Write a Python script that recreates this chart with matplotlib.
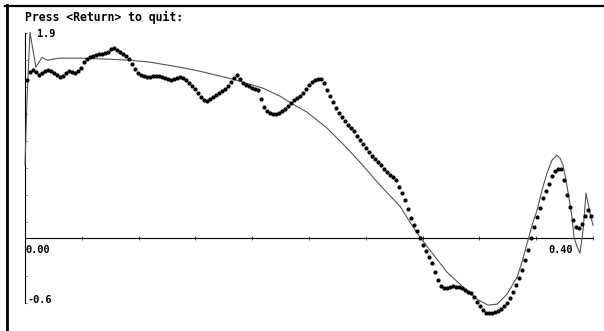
import numpy as np
import matplotlib
matplotlib.use("Agg")
import matplotlib.pyplot as plt
from matplotlib.lines import Line2D

################################################################
# Data
################################################################
# measured samples (dots)
x_meas = [
    0.0014, 0.0035, 0.0056, 0.0077, 0.0099, 0.0120, 0.0141, 0.0162, 0.0183, 0.0204,
    0.0225, 0.0246, 0.0268, 0.0289, 0.0310, 0.0331, 0.0352, 0.0373, 0.0394, 0.0415,
    0.0437, 0.0458, 0.0479, 0.0500, 0.0521, 0.0542, 0.0563, 0.0585, 0.0606, 0.0627,
    0.0648, 0.0669, 0.0690, 0.0711, 0.0732, 0.0754, 0.0775, 0.0796, 0.0817, 0.0838,
    0.0859, 0.0880, 0.0901, 0.0923, 0.0944, 0.0965, 0.0986, 0.1007, 0.1028, 0.1049,
    0.1070, 0.1092, 0.1113, 0.1134, 0.1155, 0.1176, 0.1197, 0.1218, 0.1239, 0.1261,
    0.1282, 0.1303, 0.1324, 0.1345, 0.1366, 0.1387, 0.1408, 0.1430, 0.1451, 0.1472,
    0.1493, 0.1514, 0.1535, 0.1556, 0.1577, 0.1599, 0.1620, 0.1641, 0.1662, 0.1683,
    0.1704, 0.1725, 0.1746, 0.1768, 0.1789, 0.1810, 0.1831, 0.1852, 0.1873, 0.1894,
    0.1915, 0.1937, 0.1958, 0.1979, 0.2000, 0.2021, 0.2042, 0.2063, 0.2085, 0.2106,
    0.2127, 0.2148, 0.2169, 0.2190, 0.2211, 0.2232, 0.2254, 0.2275, 0.2296, 0.2317,
    0.2338, 0.2359, 0.2380, 0.2401, 0.2423, 0.2444, 0.2465, 0.2486, 0.2507, 0.2528,
    0.2549, 0.2570, 0.2592, 0.2613, 0.2634, 0.2655, 0.2676, 0.2697, 0.2718, 0.2739,
    0.2761, 0.2782, 0.2803, 0.2824, 0.2845, 0.2866, 0.2887, 0.2908, 0.2930, 0.2951,
    0.2972, 0.2993, 0.3014, 0.3035, 0.3056, 0.3077, 0.3099, 0.3120, 0.3141, 0.3162,
    0.3183, 0.3204, 0.3225, 0.3246, 0.3268, 0.3289, 0.3310, 0.3331, 0.3352, 0.3373,
    0.3394, 0.3415, 0.3437, 0.3458, 0.3479, 0.3500, 0.3521, 0.3542, 0.3563, 0.3585,
    0.3606, 0.3627, 0.3648, 0.3669, 0.3690, 0.3711, 0.3732, 0.3754, 0.3775, 0.3796,
    0.3817, 0.3838, 0.3859, 0.3880, 0.3901, 0.3923, 0.3944, 0.3965, 0.3986,
]
y_meas = [
    1.463, 1.537, 1.556, 1.537, 1.509, 1.528, 1.546, 1.556, 1.546, 1.528,
    1.509, 1.491, 1.500, 1.528, 1.546, 1.537, 1.528, 1.546, 1.574, 1.630,
    1.657, 1.676, 1.685, 1.694, 1.704, 1.704, 1.713, 1.722, 1.750, 1.759,
    1.741, 1.722, 1.704, 1.685, 1.657, 1.611, 1.565, 1.528, 1.509, 1.500,
    1.491, 1.491, 1.500, 1.500, 1.500, 1.491, 1.481, 1.472, 1.463, 1.472,
    1.481, 1.491, 1.481, 1.463, 1.435, 1.407, 1.380, 1.343, 1.306, 1.278,
    1.269, 1.287, 1.306, 1.324, 1.343, 1.361, 1.380, 1.407, 1.444, 1.481,
    1.509, 1.472, 1.435, 1.417, 1.407, 1.389, 1.380, 1.370, 1.287, 1.213,
    1.176, 1.157, 1.148, 1.148, 1.157, 1.176, 1.194, 1.222, 1.250, 1.278,
    1.296, 1.315, 1.343, 1.380, 1.417, 1.444, 1.463, 1.472, 1.472, 1.435,
    1.370, 1.315, 1.259, 1.204, 1.157, 1.120, 1.083, 1.046, 1.019, 0.991,
    0.944, 0.907, 0.870, 0.833, 0.796, 0.759, 0.731, 0.704, 0.676, 0.639,
    0.611, 0.583, 0.565, 0.537, 0.472, 0.417, 0.352, 0.269, 0.185, 0.120,
    0.065, 0.000, -0.065, -0.120, -0.176, -0.231, -0.315, -0.389, -0.444, -0.463,
    -0.463, -0.454, -0.444, -0.454, -0.454, -0.463, -0.481, -0.500, -0.509, -0.546,
    -0.593, -0.630, -0.667, -0.694, -0.694, -0.694, -0.685, -0.676, -0.657, -0.630,
    -0.602, -0.556, -0.500, -0.435, -0.370, -0.296, -0.204, -0.111, 0.000, 0.102,
    0.194, 0.278, 0.370, 0.435, 0.500, 0.574, 0.620, 0.639, 0.639, 0.537,
    0.398, 0.287, 0.167, 0.102, 0.093, 0.130, 0.204, 0.259, 0.204,
]

# fitted curve (thin line)
x_fit = [
    0.0000, 0.0014, 0.0035, 0.0056, 0.0077, 0.0099, 0.0120, 0.0141, 0.0162, 0.0190,
    0.0246, 0.0387, 0.0599, 0.0739, 0.0880, 0.1092, 0.1232, 0.1465, 0.1676, 0.1796,
    0.1887, 0.1986, 0.2127, 0.2254, 0.2359, 0.2500, 0.2641, 0.2711, 0.2782, 0.2852,
    0.2923, 0.2972, 0.3063, 0.3183, 0.3261, 0.3324, 0.3394, 0.3465, 0.3500, 0.3542,
    0.3577, 0.3606, 0.3641, 0.3676, 0.3711, 0.3746, 0.3768, 0.3789, 0.3810, 0.3831,
    0.3852, 0.3866, 0.3887, 0.3908, 0.3930, 0.3951, 0.3979, 0.4000,
]
y_fit = [
    0.676, 1.278, 1.907, 1.741, 1.583, 1.630, 1.676, 1.657, 1.648, 1.657,
    1.667, 1.667, 1.657, 1.648, 1.630, 1.583, 1.546, 1.472, 1.389, 1.315,
    1.241, 1.167, 1.019, 0.852, 0.704, 0.491, 0.296, 0.148, 0.009, -0.111,
    -0.231, -0.315, -0.426, -0.565, -0.620, -0.611, -0.519, -0.361, -0.222, -0.019,
    0.148, 0.259, 0.444, 0.602, 0.722, 0.769, 0.741, 0.676, 0.537, 0.370,
    0.194, 0.009, -0.074, -0.139, 0.074, 0.417, 0.231, 0.120,
]

x_min, x_max = 0.0, 0.40
y_min, y_max = -0.6, 1.9

################################################################
# Figure
################################################################
W, H = 604, 331
fig = plt.figure(figsize=(W / 100, H / 100), dpi=100)
fig.patch.set_facecolor('white')

ax = fig.add_axes([25 / W, 1 - 303 / H, 568 / W, 270 / H])
ax.set_xlim(x_min, x_max)
ax.set_ylim(y_min, y_max)
ax.patch.set_alpha(0)

ax.spines['top'].set_visible(False)
ax.spines['right'].set_visible(False)
ax.spines['bottom'].set_position(('data', 0))
for s in ['left', 'bottom']:
    ax.spines[s].set_linewidth(0.8)
    ax.spines[s].set_color('black')

ax.set_xticks(np.linspace(x_min, x_max, 11))
ax.set_yticks(np.linspace(y_min, y_max, 11))
ax.tick_params(axis='x', direction='inout', length=3.5, width=0.7,
               colors='#444444', labelbottom=False)
ax.tick_params(axis='y', direction='in', length=1.5, width=0.7,
               colors='#666666', labelleft=False)

ax.plot(x_fit, y_fit, color='#555555', lw=0.8, clip_on=False, zorder=3)
ax.plot(x_meas, y_meas, ls='None', marker='o', markersize=2.0,
        color='black', mec='black', clip_on=False, zorder=4)

font = dict(family='DejaVu Sans Mono', weight='bold', color='black')
ax.text(0.0085, 1.889, '1.9', fontsize=7.4, va='center', ha='left', **font)
ax.text(0.0000, -0.111, '0.00', fontsize=7.4, va='center', ha='left', **font)
ax.text(0.0021, -0.574, '-0.6', fontsize=7.4, va='center', ha='left', **font)
ax.text(0.3859, -0.111, '0.40', fontsize=7.4, va='center', ha='right', **font)

fig.text(25 / W, 1 - 17 / H, 'Press <Return> to quit:', fontsize=8.3,
         va='center', ha='left', **font)

# screen frame (left and top edges)
fig.add_artist(Line2D([6.5 / W, 6.5 / W], [0, 1 - 5 / H],
                      transform=fig.transFigure, color='black', lw=2.0))
fig.add_artist(Line2D([5 / W, 1], [1 - 6 / H, 1 - 6 / H],
                      transform=fig.transFigure, color='black', lw=1.6))

fig.savefig('out.png', dpi=100)
